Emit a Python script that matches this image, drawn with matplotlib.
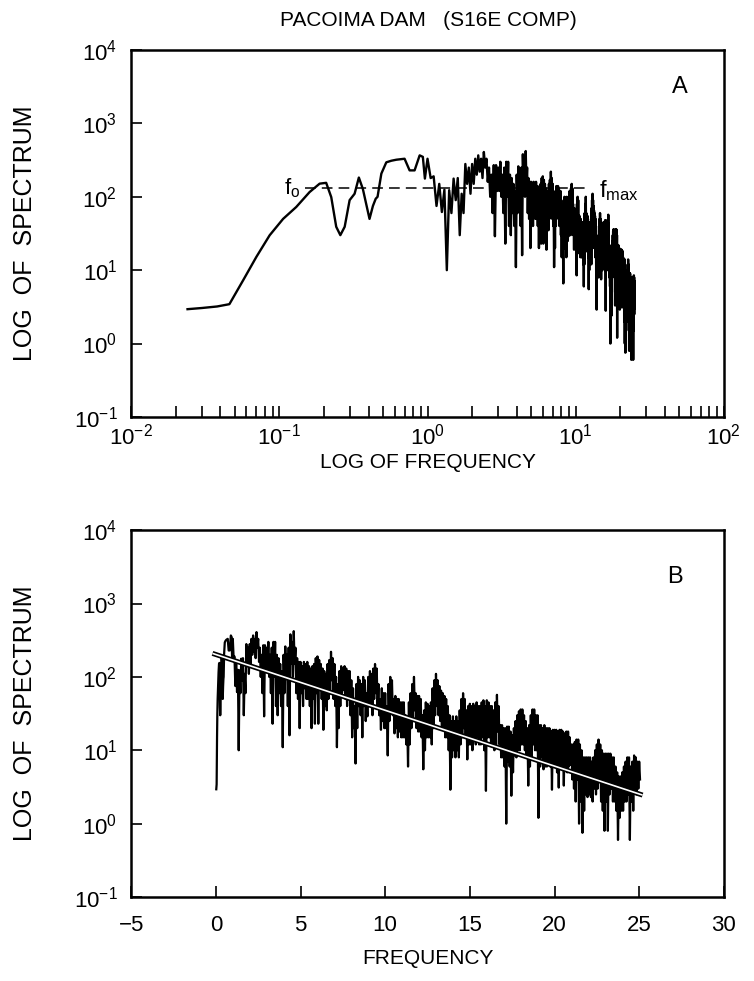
import numpy as np
import matplotlib
matplotlib.use("Agg")
import matplotlib.pyplot as plt
from matplotlib.ticker import LogLocator, NullLocator, FixedLocator

plt.rcParams['font.family'] = ['Liberation Sans', 'DejaVu Sans']
plt.rcParams['mathtext.default'] = 'regular'

# ---- data ----
# low-frequency part (log axis)
freq_low = [0.024, 0.030, 0.038, 0.046, 0.057, 0.070, 0.086, 0.106, 0.130, 0.160,
            0.187, 0.207, 0.224, 0.242, 0.258, 0.276, 0.298, 0.322, 0.344, 0.366,
            0.390, 0.406, 0.428, 0.447, 0.460, 0.488, 0.527, 0.570, 0.616, 0.700,
            0.757, 0.818, 0.885, 0.930, 0.960]
spec_low = [2.94, 3.05, 3.2, 3.44, 7.3, 15.2, 29.9, 50, 72.6, 116,
            151, 155, 99, 39, 30, 39, 90, 110, 183, 128,
            72.6, 50, 75, 94, 100, 207, 295, 310, 320, 330,
            229, 229, 367, 350, 177]

# 1.0 - 25.0 Hz, 0.1 Hz bins: peak and trough inside each bin
freq_high = np.round(np.arange(1.0, 25.05, 0.1), 2)
spec_top = [
    330, 190, 150, 125, 123, 177, 180, 110, 280, 250,   # 1
    280, 330, 367, 330, 408, 330, 250, 200, 270, 270,   # 2
    250, 300, 200, 250, 300, 300, 200, 180, 150, 120,   # 3
    200, 260, 200, 250, 380, 300, 420, 250, 180, 160,   # 4
    160, 140, 160, 150, 160, 140, 130, 140, 150, 180,   # 5
    190, 170, 150, 130, 120, 110, 150, 170, 220, 180,   # 6
    150, 100, 80, 120, 140, 130, 140, 130, 120, 120,    # 7
    90, 70, 40, 80, 100, 90, 80, 100, 90, 60,           # 8
    100, 120, 110, 130, 150, 130, 80, 50, 70, 60,       # 9
    60, 40, 80, 100, 90, 50, 55, 50, 50, 45,            # 10
    45, 45, 30, 25, 45, 60, 80, 100, 60, 55,            # 11
    55, 50, 30, 35, 45, 43, 40, 45, 70, 90,             # 12
    110, 90, 75, 65, 60, 55, 50, 40, 30, 25,            # 13
    29, 25, 29, 25, 35, 50, 60, 50, 35, 40,             # 14
    43, 40, 43, 40, 45, 40, 40, 45, 48, 40,             # 15
    48, 45, 40, 40, 35, 45, 57, 40, 22, 22,             # 16
    20, 20, 21, 21, 18, 16, 20, 25, 30, 34,             # 17
    36, 36, 30, 25, 20, 22, 30, 36, 36, 30,             # 18
    30, 22, 22, 20, 22, 20, 20, 20, 18, 19,             # 19
    19, 19, 18, 19, 19, 18, 17, 18, 18, 15,             # 20
    12, 12, 13, 14, 14, 12, 10, 8, 8, 8,                # 21
    8, 8, 7, 8, 10, 12, 14, 12, 10, 9,                  # 22
    9, 9, 9, 9, 8, 8, 6, 5, 4.4, 4.4,                   # 23
    5, 6, 7, 8, 8, 6, 7, 8.5, 8, 7,                     # 24
    7,                                                  # 25
]
spec_bot = [
    180, 75, 62, 10, 60, 90, 30, 60, 150, 110,          # 1
    150, 200, 220, 180, 250, 160, 100, 60, 29, 120,     # 2
    120, 100, 60, 23, 100, 40, 30, 60, 40, 11,          # 3
    60, 100, 40, 16, 150, 100, 150, 60, 50, 20,         # 4
    60, 40, 70, 50, 50, 40, 20, 50, 23, 60,             # 5
    23, 70, 50, 19, 40, 35, 50, 60, 90, 50,             # 6
    40, 11, 20, 40, 60, 66, 50, 40, 50, 30,             # 7
    15, 20, 6.6, 20, 40, 30, 15, 40, 25, 29,            # 8
    40, 40, 30, 50, 60, 40, 30, 19, 25, 20,             # 9
    20, 8.5, 25, 35, 30, 17, 20, 15, 18, 15,            # 10
    15, 15, 12, 6, 12, 20, 25, 35, 20, 18,              # 11
    18, 15, 5.5, 10, 15, 15, 15, 12, 20, 30,            # 12
    40, 30, 25, 20, 20, 15, 15, 10, 2.9, 8,             # 13
    10, 8, 10, 8, 12, 15, 20, 15, 7.5, 12,              # 14
    12, 10, 15, 12, 15, 12, 12, 15, 10, 2.8,            # 15
    15, 15, 12, 12, 10, 12, 18, 12, 8, 8,               # 16
    6, 1.0, 7, 6, 2.4, 5, 8.5, 8, 10, 10,               # 17
    12, 12, 10, 8, 3.3, 6, 8, 12, 10, 10,               # 18
    1.2, 6, 8, 5.5, 6, 6, 7, 6, 2.9, 6,                 # 19
    6, 5, 3.1, 6, 6, 3.3, 6, 5, 6, 6.3,                 # 20
    4, 3, 2, 4, 1.0, 2, 0.75, 1.5, 2.5, 2.3,            # 21
    2.5, 2.3, 2, 3, 2.5, 3, 4, 2, 1.5, 0.8,             # 22
    2, 0.8, 2.5, 3, 2, 2, 1.5, 0.6, 1.2, 1.5,           # 23
    1.5, 2, 2, 2.5, 0.6, 2, 1.5, 3, 2.5, 3,             # 24
    4,                                                  # 25
]

# peak then trough in every bin, in frequency order
freq_pairs = np.column_stack([freq_high, freq_high + 0.05]).ravel()
spec_pairs = np.column_stack([spec_top, spec_bot]).ravel()
freq = np.concatenate([freq_low, freq_pairs])
spec = np.concatenate([spec_low, spec_pairs])

# fitted straight line in panel B (end points)
fit_freq = [-0.2, 25.2]
fit_spec = [209, 2.45]

# f_o .. f_max plateau in panel A
f_o = 0.148
f_max = 12.5
plateau = 132

# ---- figure ----
fig = plt.figure(figsize=(7.54, 9.81), dpi=100)
axA = fig.add_axes([0.174, 0.575, 0.786, 0.374])
axB = fig.add_axes([0.174, 0.0856, 0.786, 0.374])

fs = 15
tfs = 16

# panel A
axA.loglog(freq, spec, color='black', lw=1.7)
axA.plot([f_o, f_max], [plateau, plateau], color='black', lw=1.1, dashes=(7, 4))
axA.text(f_o * 0.93, plateau, 'f$_{o}$', ha='right', va='center', fontsize=16)
axA.text(f_max * 1.15, plateau * 0.93, 'f$_{max}$', ha='left', va='center', fontsize=17)
axA.set_xlim(1e-2, 1e2)
axA.set_ylim(1e-1, 1e4)
axA.xaxis.set_major_locator(LogLocator(base=10, numticks=10))
axA.xaxis.set_minor_locator(LogLocator(base=10, subs=np.arange(2, 10), numticks=20))
axA.set_xlabel('LOG OF FREQUENCY', fontsize=fs, labelpad=2)
axA.tick_params(axis='x', pad=5)
axA.text(0.925, 0.9, 'A', transform=axA.transAxes, ha='center', va='center', fontsize=17)

# panel B
axB.semilogy(freq, spec, color='black', lw=1.6)
axB.plot(fit_freq, fit_spec, color='black', lw=3.6, solid_capstyle='butt')
axB.plot(fit_freq, fit_spec, color='white', lw=1.2, solid_capstyle='butt')
axB.set_xlim(-5, 30)
axB.set_ylim(1e-1, 1e4)
axB.xaxis.set_major_locator(FixedLocator([-5, 0, 5, 10, 15, 20, 25, 30]))
axB.set_xlabel('FREQUENCY', fontsize=fs, labelpad=9)
axB.tick_params(axis='x', pad=13)
axB.text(0.917, 0.872, 'B', transform=axB.transAxes, ha='center', va='center', fontsize=17)

for ax in (axA, axB):
    ax.yaxis.set_major_locator(LogLocator(base=10, numticks=10))
    ax.yaxis.set_minor_locator(NullLocator())
    ax.set_ylabel('LOG  OF  SPECTRUM', fontsize=18)
    ax.yaxis.set_label_coords(-0.1585, 0.5)
    ax.tick_params(which='both', direction='in', top=False, right=False,
                   length=8, width=1.2, labelsize=tfs)
    ax.tick_params(axis='y', pad=10)
    for sp in ax.spines.values():
        sp.set_linewidth(1.8)

fig.text(0.5676, 0.979, 'PACOIMA DAM   (S16E COMP)', ha='center', va='center', fontsize=fs)

fig.savefig('out.png', dpi=100)
